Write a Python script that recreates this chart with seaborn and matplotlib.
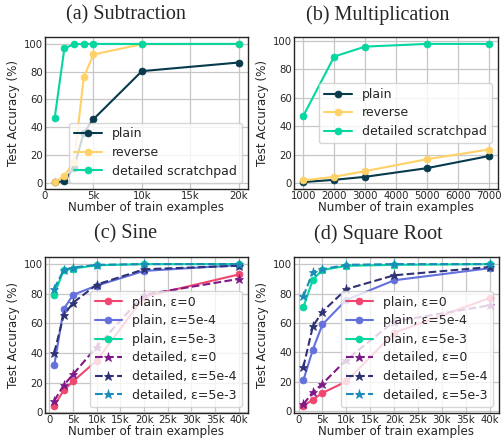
import matplotlib
matplotlib.use("Agg")
import matplotlib.pyplot as plt
import seaborn as sns
import numpy as np

# ---------------- data ----------------
sub_x = [1000, 2000, 3000, 4000, 5000, 10000, 20000]
sub_plain = [0.5, 1.0, 11.0, 36.0, 45.8, 80.4, 86.6]
sub_reverse = [0.5, 5.0, 15.0, 76.0, 92.4, 99.8, 100.0]
sub_detailed = [46.8, 96.8, 99.8, 100.0, 100.0, 100.0, 100.0]

mul_x = [1000, 2000, 3000, 5000, 7000]
mul_plain = [0.7, 2.3, 4.4, 10.5, 19.0]
mul_reverse = [1.9, 4.4, 8.4, 16.8, 23.6]
mul_detailed = [47.2, 89.0, 96.0, 97.9, 97.9]

trig_x = [1000, 3000, 5000, 10000, 20000, 40000]
sine_plain_0 = [4.4, 15.0, 21.0, 35.0, 78.0, 93.0]
sine_plain_5e4 = [31.7, 69.7, 79.3, 85.5, 95.4, 99.3]
sine_plain_5e3 = [79.5, 95.9, 97.0, 99.2, 100.0, 100.0]
sine_det_0 = [7.8, 18.4, 25.7, 44.4, 79.4, 90.0]
sine_det_5e4 = [40.2, 65.5, 74.0, 86.2, 96.5, 98.9]
sine_det_5e3 = [83.4, 96.0, 97.7, 99.5, 100.0, 100.0]

sqrt_plain_0 = [3.7, 8.0, 12.5, 20.3, 53.3, 77.0]
sqrt_plain_5e4 = [21.0, 42.0, 59.0, 75.7, 89.0, 97.2]
sqrt_plain_5e3 = [70.7, 89.4, 96.0, 98.8, 99.5, 100.0]
sqrt_det_0 = [4.8, 13.0, 18.7, 35.0, 61.0, 72.0]
sqrt_det_5e4 = [30.0, 57.7, 67.7, 83.0, 92.4, 98.0]
sqrt_det_5e3 = [78.0, 94.7, 96.5, 99.5, 100.0, 100.0]

titles = ["(a) Subtraction", "(b) Multiplication", "(c) Sine", "(d) Square Root"]
labels_ab = ["plain", "reverse", "detailed scratchpad"]
labels_cd = ["plain, ε=0", "plain, ε=5e-4", "plain, ε=5e-3",
             "detailed, ε=0", "detailed, ε=5e-4", "detailed, ε=5e-3"]
ticks_a = [0, 5000, 10000, 15000, 20000]
ticklabels_a = ["0", "5k", "10k", "15k", "20k"]
ticks_b = [1000, 2000, 3000, 4000, 5000, 6000, 7000]
ticklabels_b = ["1000", "2000", "3000", "4000", "5000", "6000", "7000"]
ticks_cd = [0, 5000, 10000, 15000, 20000, 25000, 30000, 35000, 40000]
ticklabels_cd = ["0", "5k", "10k", "15k", "20k", "25k", "30k", "35k", "40k"]
y_ticks = [0, 20, 40, 60, 80, 100]

# ---------------- style ----------------
sns.set_style("whitegrid", {"axes.edgecolor": "0.15", "grid.color": "0.78"})
plt.rcParams["font.family"] = ["DejaVu Sans"]

C_PLAIN = "#073b4c"
C_REV = "#ffd166"
C_DET = "#06d6a0"
C_PINK = "#ef476f"
C_BLUE = "#6470dc"
C_PURP = "#7d1a88"
C_NAVY = "#2e3274"
C_LBLUE = "#1b8cb8"

fig = plt.figure(figsize=(5.02, 4.38), dpi=100)
W, H = 502.0, 438.0
def add_ax(l, r, t, b):
    return fig.add_axes([l / W, 1 - b / H, (r - l) / W, (b - t) / H])

ax_a = add_ax(45, 248, 37, 189)
ax_b = add_ax(294, 498, 37, 189)
ax_c = add_ax(45, 248, 257, 413)
ax_d = add_ax(294, 499, 257, 413)

LW = 1.5
MS = 5.0
SMS = 6.5

def draw(ax, x, y, color, label, dashed=False):
    if dashed:
        sns.lineplot(x=x, y=y, ax=ax, color=color, label=label, marker="*",
                     markersize=SMS, linewidth=LW, linestyle="--",
                     markeredgecolor=color, markeredgewidth=0.5)
    else:
        sns.lineplot(x=x, y=y, ax=ax, color=color, label=label, marker="o",
                     markersize=MS, linewidth=LW,
                     markeredgecolor=color, markeredgewidth=0.5)

# (a)
draw(ax_a, sub_x, sub_plain, C_PLAIN, labels_ab[0])
draw(ax_a, sub_x, sub_reverse, C_REV, labels_ab[1])
draw(ax_a, sub_x, sub_detailed, C_DET, labels_ab[2])
ax_a.set_xticks(ticks_a, ticklabels_a)

# (b)
draw(ax_b, mul_x, mul_plain, C_PLAIN, labels_ab[0])
draw(ax_b, mul_x, mul_reverse, C_REV, labels_ab[1])
draw(ax_b, mul_x, mul_detailed, C_DET, labels_ab[2])
ax_b.set_xticks(ticks_b, ticklabels_b)

# (c)
for ys, col, lab, dsh in [
    (sine_plain_0, C_PINK, labels_cd[0], False),
    (sine_plain_5e4, C_BLUE, labels_cd[1], False),
    (sine_plain_5e3, C_DET, labels_cd[2], False),
    (sine_det_0, C_PURP, labels_cd[3], True),
    (sine_det_5e4, C_NAVY, labels_cd[4], True),
    (sine_det_5e3, C_LBLUE, labels_cd[5], True),
]:
    draw(ax_c, trig_x, ys, col, lab, dsh)
ax_c.set_xticks(ticks_cd, ticklabels_cd)

# (d)
for ys, col, lab, dsh in [
    (sqrt_plain_0, C_PINK, labels_cd[0], False),
    (sqrt_plain_5e4, C_BLUE, labels_cd[1], False),
    (sqrt_plain_5e3, C_DET, labels_cd[2], False),
    (sqrt_det_0, C_PURP, labels_cd[3], True),
    (sqrt_det_5e4, C_NAVY, labels_cd[4], True),
    (sqrt_det_5e3, C_LBLUE, labels_cd[5], True),
]:
    draw(ax_d, trig_x, ys, col, lab, dsh)
ax_d.set_xticks(ticks_cd, ticklabels_cd)

locs = {ax_a: "lower right", ax_b: "center right", ax_c: "lower right", ax_d: "lower right"}
for ax in [ax_a, ax_b, ax_c, ax_d]:
    ax.set_yticks(y_ticks)
    ax.tick_params(labelsize=7.3, pad=1.5, length=0)
    ax.set_xlabel("Number of train examples", fontsize=8.6, labelpad=0)
    ax.set_ylabel("Test Accuracy (%)", fontsize=8.6, labelpad=3)
    ax.grid(True, linewidth=0.9)
    for s in ax.spines.values():
        s.set_linewidth(1.0)
    ax.legend(loc=locs[ax], fontsize=9, framealpha=0.8, handlelength=2.2,
              borderpad=0.4, labelspacing=0.45)

for t, (x, y) in zip(titles, [(0.25, 1 - 15 / H), (0.753, 1 - 15 / H),
                              (0.25, 1 - 234 / H), (0.753, 1 - 234 / H)]):
    fig.text(x, y, t, ha="center", va="center", fontsize=14.5,
             family=["Liberation Serif", "DejaVu Serif"])

fig.savefig("out.png", dpi=100)
